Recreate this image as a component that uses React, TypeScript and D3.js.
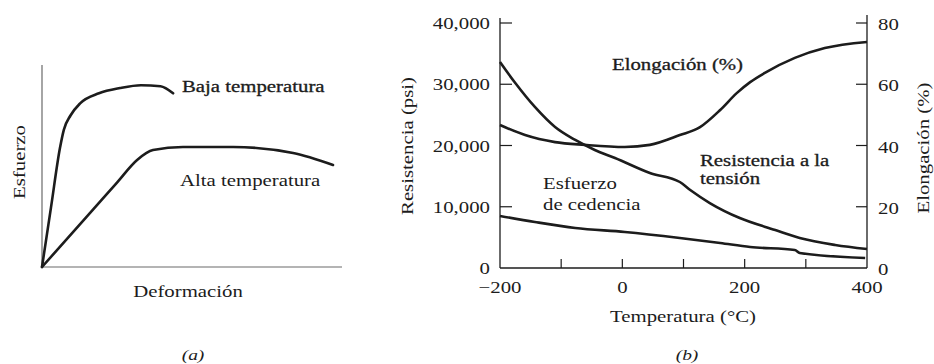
import React from "react";
import * as d3 from "d3";

// Panel (a): schematic stress–strain curves (arbitrary units, 0–10 on both axes)
const lowTempStrain = [0, 0.3, 0.6, 0.73, 0.95, 1.27, 1.9, 2.6, 3.3, 3.95, 4.37];
const lowTempStress = [0, 2.95, 5.9, 6.8, 7.5, 8.1, 8.6, 8.86, 9.0, 8.95, 8.6];
const highTempStrain = [0, 1.5, 2.5, 3.17, 3.7, 4.7, 6.37, 8.37, 9.7];
const highTempStress = [0, 2.51, 4.18, 5.3, 5.79, 5.94, 5.94, 5.64, 5.05];

// Panel (b): properties versus temperature
const tensileTemp = [-200, -175, -143, -110, -77, -45, -12, 45, 94, 111, 143, 192, 250, 290, 348, 400];
const tensilePsi = [33630, 30200, 26290, 23020, 20900, 19270, 17960, 15510, 14040, 12730, 10610, 8160, 6200, 4900, 3760, 3100];
const elongTemp = [-200, -159, -110, -61, 4, 45, 94, 127, 160, 187, 209, 233, 282, 331, 400];
const elongPct = [46.7, 43.4, 41.1, 40.2, 39.5, 40.2, 43.4, 46.0, 51.6, 57.1, 60.7, 63.7, 68.6, 71.8, 73.8];
const yieldTemp = [-200, -143, -77, 4, 94, 160, 209, 282, 290, 397];
const yieldPsi = [8490, 7510, 6530, 5880, 4900, 4080, 3430, 2940, 2450, 1630];

const tempTicks = [-200, 0, 200, 400];
const tempMinorTicks = [-100, 100, 300];
const psiTicks = [0, 10000, 20000, 30000, 40000];
const pctTicks = [0, 20, 40, 60, 80];

const FONT = "'Liberation Serif', 'Times New Roman', serif";
const SX = 1.3;
const INK = "#1c1c1c";

type TProps = {
  x: number;
  y: number;
  children: React.ReactNode;
  anchor?: "start" | "middle" | "end";
  rotate?: number;
  size?: number;
  heavy?: boolean;
  italic?: boolean;
};

function Label({ x, y, children, anchor = "start", rotate = 0, size = 16, heavy = false, italic = false }: TProps) {
  return (
    <text
      transform={`translate(${x},${y}) rotate(${rotate}) scale(${SX},1)`}
      textAnchor={anchor}
      fontFamily={FONT}
      fontSize={size}
      fontStyle={italic ? "italic" : "normal"}
      fill={INK}
      stroke={heavy ? INK : "none"}
      strokeWidth={heavy ? 0.3 : 0}
    >
      {children}
    </text>
  );
}

function PanelA() {
  const x = d3.scaleLinear().domain([0, 10]).range([42, 342]);
  const y = d3.scaleLinear().domain([0, 10]).range([267, 65]);
  const line = d3
    .line<[number, number]>()
    .x((d) => x(d[0]))
    .y((d) => y(d[1]))
    .curve(d3.curveMonotoneX);
  const low = lowTempStrain.map((s, i) => [s, lowTempStress[i]] as [number, number]);
  const high = highTempStrain.map((s, i) => [s, highTempStress[i]] as [number, number]);
  return (
    <g>
      <line x1={x(0)} x2={x(0)} y1={y(10)} y2={y(0)} stroke="#6a6a6a" strokeWidth={1.2} />
      <line x1={x(0)} x2={x(10)} y1={y(0)} y2={y(0)} stroke="#6a6a6a" strokeWidth={1.2} />
      <path d={line(low) ?? ""} fill="none" stroke={INK} strokeWidth={2.6} strokeLinecap="round" />
      <path d={line(high) ?? ""} fill="none" stroke={INK} strokeWidth={2.6} strokeLinecap="round" />
      <Label x={182} y={92} heavy>Baja temperatura</Label>
      <Label x={180} y={186}>Alta temperatura</Label>
      <Label x={25} y={162} rotate={-90} anchor="middle">Esfuerzo</Label>
      <Label x={188} y={297} anchor="middle">Deformación</Label>
      <Label x={193} y={360} anchor="middle" italic size={15}>(a)</Label>
    </g>
  );
}

function PanelB() {
  const x = d3.scaleLinear().domain([-200, 400]).range([500, 867]);
  const yPsi = d3.scaleLinear().domain([0, 40000]).range([268, 23]);
  const yPct = d3.scaleLinear().domain([0, 80]).range([268, 23]);
  const fmt = d3.format(",");

  const psiLine = d3
    .line<[number, number]>()
    .x((d) => x(d[0]))
    .y((d) => yPsi(d[1]))
    .curve(d3.curveMonotoneX);
  const pctLine = d3
    .line<[number, number]>()
    .x((d) => x(d[0]))
    .y((d) => yPct(d[1]))
    .curve(d3.curveMonotoneX);

  const tensile = tensileTemp.map((t, i) => [t, tensilePsi[i]] as [number, number]);
  const elong = elongTemp.map((t, i) => [t, elongPct[i]] as [number, number]);
  const yld = yieldTemp.map((t, i) => [t, yieldPsi[i]] as [number, number]);

  const x0 = x(-200);
  const x1 = x(400);
  const yBase = yPsi(0);

  return (
    <g>
      {/* axes */}
      <line x1={x0} x2={x0} y1={18} y2={yBase} stroke={INK} strokeWidth={1.3} />
      <line x1={x1} x2={x1} y1={15} y2={yBase} stroke={INK} strokeWidth={1.3} />
      <line x1={x0} x2={x1} y1={yBase} y2={yBase} stroke={INK} strokeWidth={1.3} />

      {psiTicks.map((v) => (
        <g key={`psi${v}`}>
          {v > 0 && <line x1={x0} x2={x0 + 12} y1={yPsi(v)} y2={yPsi(v)} stroke={INK} strokeWidth={1.2} />}
          <Label x={490} y={yPsi(v) + 6} anchor="end">{fmt(v)}</Label>
        </g>
      ))}
      {pctTicks.map((v) => (
        <g key={`pct${v}`}>
          {v > 0 && <line x1={x1 - 11} x2={x1} y1={yPct(v)} y2={yPct(v)} stroke={INK} strokeWidth={1.2} />}
          <Label x={878} y={yPct(v) + 7}>{String(v)}</Label>
        </g>
      ))}
      {[...tempTicks, ...tempMinorTicks].map((t) =>
        t > -200 && t < 400 ? (
          <line key={`tt${t}`} x1={x(t)} x2={x(t)} y1={yBase} y2={yBase - 9} stroke={INK} strokeWidth={1.2} />
        ) : null
      )}
      {tempTicks.map((t) => (
        <Label key={`tl${t}`} x={x(t)} y={293} anchor="middle">
          {t < 0 ? `\u2212${Math.abs(t)}` : String(t)}
        </Label>
      ))}

      {/* curves */}
      <path d={psiLine(tensile) ?? ""} fill="none" stroke={INK} strokeWidth={2.6} />
      <path d={pctLine(elong) ?? ""} fill="none" stroke={INK} strokeWidth={2.6} />
      <path d={psiLine(yld) ?? ""} fill="none" stroke={INK} strokeWidth={2.6} />

      {/* annotations */}
      <Label x={612} y={70} heavy>Elongación (%)</Label>
      <Label x={700} y={166} heavy>Resistencia a la</Label>
      <Label x={700} y={184} heavy>tensión</Label>
      <Label x={543} y={189}>Esfuerzo</Label>
      <Label x={543} y={210}>de cedencia</Label>

      {/* axis titles */}
      <Label x={413} y={146} rotate={-90} anchor="middle">Resistencia (psi)</Label>
      <Label x={929} y={148} rotate={-90} anchor="middle">Elongación (%)</Label>
      <Label x={683} y={322} anchor="middle">Temperatura (°C)</Label>
      <Label x={687} y={360} anchor="middle" italic size={15}>(b)</Label>
    </g>
  );
}

export default function App() {
  return (
    <svg
      width={934}
      height={364}
      viewBox="0 0 934 364"
      style={{ position: "absolute", left: 0, top: 0, background: "#fff" }}
    >
      <rect width={934} height={364} fill="#fff" />
      <PanelA />
      <PanelB />
    </svg>
  );
}
